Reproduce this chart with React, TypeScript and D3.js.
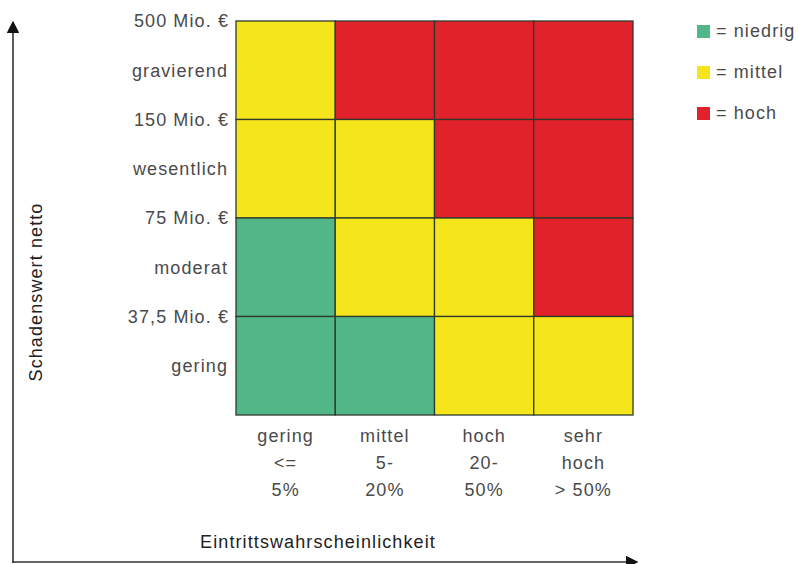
import { useEffect, useRef } from "react";
import * as d3 from "d3";

// columns: probability, rows: damage (top to bottom)
const probCategories = ["gering", "mittel", "hoch", "sehr hoch"];
const probLabels = [
  ["gering", "<=", "5%"],
  ["mittel", "5-", "20%"],
  ["hoch", "20-", "50%"],
  ["sehr", "hoch", "> 50%"],
];
const damageCategories = ["gravierend", "wesentlich", "moderat", "gering"];
const damageThresholds = ["500 Mio. €", "150 Mio. €", "75 Mio. €", "37,5 Mio. €"];
// risk level per row (top to bottom), per column
const riskMatrix = [
  ["mittel", "hoch", "hoch", "hoch"],
  ["mittel", "mittel", "hoch", "hoch"],
  ["niedrig", "mittel", "mittel", "hoch"],
  ["niedrig", "niedrig", "mittel", "mittel"],
];
const legendItems = ["niedrig", "mittel", "hoch"];

const colors: Record<string, string> = {
  niedrig: "#52b788",
  mittel: "#f5e61c",
  hoch: "#e2222a",
};

export default function App() {
  const svgRef = useRef<SVGSVGElement>(null);
  const width = 799;
  const height = 564;

  useEffect(() => {
    if (!svgRef.current) return;
    const svg = d3.select(svgRef.current);
    svg.selectAll("*").remove();

    const font = "'Liberation Sans', Arial, sans-serif";
    const fontSize = 18;
    const spacing = 1.1;
    const textColor = "#4a4a4a";

    const grid = { left: 236, right: 633, top: 21, bottom: 415 };
    const x = d3.scaleBand<string>().domain(probCategories).range([grid.left, grid.right]);
    const y = d3.scaleBand<string>().domain(damageCategories).range([grid.top, grid.bottom]);

    const cells = riskMatrix.flatMap((row, i) =>
      row.map((level, j) => ({ row: damageCategories[i], col: probCategories[j], level }))
    );

    svg
      .append("g")
      .selectAll("rect")
      .data(cells)
      .enter()
      .append("rect")
      .attr("x", (d) => x(d.col)!)
      .attr("y", (d) => y(d.row)!)
      .attr("width", x.bandwidth())
      .attr("height", y.bandwidth())
      .attr("fill", (d) => colors[d.level])
      .attr("stroke", "#2e3a2e")
      .attr("stroke-width", 1.3);

    // left labels: thresholds at band tops, category names at band centres
    const left = svg
      .append("g")
      .attr("font-family", font)
      .attr("font-size", fontSize)
      .attr("letter-spacing", spacing)
      .attr("fill", textColor)
      .attr("text-anchor", "end");
    left
      .selectAll(".thr")
      .data(damageThresholds)
      .enter()
      .append("text")
      .attr("x", 229)
      .attr("y", (d, i) => y(damageCategories[i])!)
      .attr("dy", "0.35em")
      .text((d) => d);
    left
      .selectAll(".cat")
      .data(damageCategories)
      .enter()
      .append("text")
      .attr("x", 228)
      .attr("y", (d) => y(d)! + y.bandwidth() / 2)
      .attr("dy", "0.35em")
      .text((d) => d);

    // bottom labels
    const bottom = svg
      .append("g")
      .attr("font-family", font)
      .attr("font-size", fontSize)
      .attr("letter-spacing", spacing)
      .attr("fill", textColor)
      .attr("text-anchor", "middle");
    probCategories.forEach((c, i) => {
      probLabels[i].forEach((line, k) => {
        bottom
          .append("text")
          .attr("x", x(c)! + x.bandwidth() / 2)
          .attr("y", 436 + k * 27)
          .attr("dy", "0.35em")
          .text(line);
      });
    });

    // axes with arrows
    const defs = svg.append("defs");
    defs
      .append("marker")
      .attr("id", "arrow")
      .attr("viewBox", "0 0 10 10")
      .attr("refX", 5)
      .attr("refY", 5)
      .attr("markerWidth", 8)
      .attr("markerHeight", 8)
      .attr("orient", "auto")
      .append("path")
      .attr("d", "M0,0 L10,5 L0,10 z")
      .attr("fill", "#111");

    svg
      .append("line")
      .attr("x1", 13)
      .attr("y1", 563)
      .attr("x2", 13)
      .attr("y2", 27)
      .attr("stroke", "#333")
      .attr("stroke-width", 1.6)
      .attr("marker-end", "url(#arrow)");
    svg
      .append("line")
      .attr("x1", 12)
      .attr("y1", 562)
      .attr("x2", 632)
      .attr("y2", 562)
      .attr("stroke", "#333")
      .attr("stroke-width", 1.6)
      .attr("marker-end", "url(#arrow)");

    svg
      .append("text")
      .attr("x", 318)
      .attr("y", 542)
      .attr("dy", "0.35em")
      .attr("text-anchor", "middle")
      .attr("font-family", font)
      .attr("font-size", fontSize)
      .attr("letter-spacing", spacing)
      .attr("fill", "#222")
      .text("Eintrittswahrscheinlichkeit");

    svg
      .append("text")
      .attr("transform", `translate(36,292) rotate(-90)`)
      .attr("dy", "0.35em")
      .attr("text-anchor", "middle")
      .attr("font-family", font)
      .attr("font-size", fontSize)
      .attr("letter-spacing", spacing)
      .attr("fill", "#222")
      .text("Schadenswert netto");

    // legend
    const legend = svg
      .append("g")
      .selectAll("g")
      .data(legendItems)
      .enter()
      .append("g")
      .attr("transform", (d, i) => `translate(697,${31 + i * 41})`);
    legend
      .append("rect")
      .attr("x", 0)
      .attr("y", -6)
      .attr("width", 13)
      .attr("height", 13)
      .attr("fill", (d) => colors[d]);
    legend
      .append("text")
      .attr("x", 19)
      .attr("y", 0)
      .attr("dy", "0.35em")
      .attr("font-family", font)
      .attr("font-size", fontSize)
      .attr("letter-spacing", spacing)
      .attr("fill", textColor)
      .text((d) => `= ${d}`);
  }, []);

  return (
    <svg
      ref={svgRef}
      width={width}
      height={height}
      style={{ position: "absolute", left: 0, top: 0, background: "#fff" }}
    ></svg>
  );
}
